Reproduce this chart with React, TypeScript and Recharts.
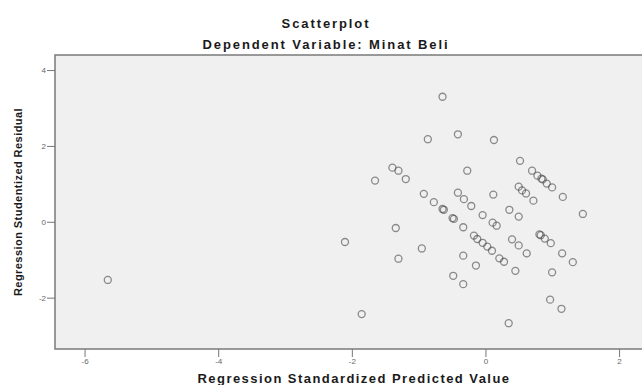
import React from "react";
import {
  ScatterChart,
  Scatter,
  XAxis,
  YAxis,
  CartesianGrid,
  ReferenceArea,
} from "recharts";

// regression standardized predicted value (x) / studentized residual (y)
const predicted = [
  -5.66, -2.11, -1.86, -1.66, -1.4, -1.31, -1.2, -1.35, -1.31, -0.96, -0.93,
  -0.87, -0.65, -0.42, 0.12, -0.28, -0.78, -0.65, -0.5, -0.34, -0.42, -0.33,
  -0.22, 0.11, -0.05, 0.1, 0.16, 0.35, 0.49, 0.51, 0.69, 0.77, 0.85, 0.91, 0.99,
  1.15, 0.49, 0.54, 0.6, 0.71, 1.45, -0.18, -0.13, -0.05, 0.02, 0.09, 0.2, 0.27,
  0.39, 0.49, 0.61, 0.8, 0.88, 0.97, 1.14, 1.3, -0.34, -0.15, 0.44, 0.99, -0.49,
  -0.34, 0.96, 1.13, 0.34, -0.63, -0.48, 0.83, 0.82,
];
const residual = [
  -1.52, -0.52, -2.42, 1.1, 1.44, 1.36, 1.14, -0.15, -0.96, -0.69, 0.75, 2.19,
  3.31, 2.32, 2.17, 1.36, 0.53, 0.35, 0.11, -0.13, 0.78, 0.61, 0.43, 0.73, 0.19,
  -0.01, -0.09, 0.33, 0.15, 1.62, 1.36, 1.23, 1.13, 1.02, 0.92, 0.67, 0.94, 0.84,
  0.76, 0.57, 0.22, -0.35, -0.44, -0.54, -0.64, -0.75, -0.95, -1.04, -0.45,
  -0.61, -0.82, -0.32, -0.43, -0.55, -0.82, -1.05, -0.88, -1.14, -1.28, -1.32,
  -1.41, -1.63, -2.04, -2.28, -2.66, 0.33, 0.09, 1.15, -0.34,
];
const xTicks = [-6, -4, -2, 0, 2];
const yTicks = [-2, 0, 2, 4];
const xDomain = [-6.45, 2.5];
const yDomain = [-3.34, 4.41];

const points = predicted.map((x, i) => ({ x, y: residual[i] }));

const FONT = "'Liberation Sans', Arial, sans-serif";

const Marker = (props: any) => (
  <circle
    cx={props.cx}
    cy={props.cy}
    r={3.5}
    fill="none"
    stroke="#444"
    strokeOpacity={0.6}
    strokeWidth={1.3}
  />
);

const XTitle = (props: any) => {
  const { viewBox } = props;
  const cx = viewBox.x + viewBox.width / 2;
  return (
    <text
      x={cx}
      y={378}
      textAnchor="middle"
      dominantBaseline="central"
      style={{ fontFamily: FONT, fontSize: 13, fontWeight: "bold", letterSpacing: 1.45 }}
      fill="#1a1a1a"
    >
      Regression Standardized Predicted Value
    </text>
  );
};

const YTitle = (props: any) => {
  const { viewBox } = props;
  const cx = 17.5;
  const cy = viewBox.y + viewBox.height / 2;
  return (
    <text
      x={cx}
      y={cy}
      transform={`rotate(-90 ${cx} ${cy})`}
      textAnchor="middle"
      dominantBaseline="central"
      style={{ fontFamily: FONT, fontSize: 11, fontWeight: "bold", letterSpacing: 0.45 }}
      fill="#1a1a1a"
    >
      Regression Studentized Residual
    </text>
  );
};

const App: React.FC = () => {
  return (
    <div style={styles.page}>
      <div style={{ ...styles.title, top: 23 }}>Scatterplot</div>
      <div style={{ ...styles.title, top: 43.5 }}>Dependent Variable: Minat Beli</div>
      <ScatterChart
        width={653}
        height={385}
        margin={{ top: 55, right: 0, bottom: 0, left: 0 }}
      >
        <CartesianGrid horizontal={false} vertical={false} fill="#f0f0f0" />
        <XAxis
          type="number"
          dataKey="x"
          domain={xDomain}
          ticks={xTicks}
          allowDataOverflow
          height={36}
          axisLine={false}
          tickSize={8}
          tickMargin={1}
          tickLine={{ stroke: "#777" }}
          tick={{ fontSize: 8, fill: "#666", fontFamily: FONT }}
          label={<XTitle />}
        />
        <YAxis
          type="number"
          dataKey="y"
          domain={yDomain}
          ticks={yTicks}
          allowDataOverflow
          width={55}
          axisLine={false}
          tickSize={8}
          tickMargin={1}
          tickLine={{ stroke: "#777" }}
          tick={{ fontSize: 8, fill: "#666", fontFamily: FONT }}
          label={<YTitle />}
        />
        <ReferenceArea
          x1={xDomain[0]}
          x2={xDomain[1]}
          y1={yDomain[0]}
          y2={yDomain[1]}
          fill="#f0f0f0"
          fillOpacity={0}
          stroke="#7a7a7a"
          strokeWidth={1.5}
        />
        <Scatter data={points} shape={<Marker />} isAnimationActive={false} />
      </ScatterChart>
    </div>
  );
};

const styles: { [key: string]: React.CSSProperties } = {
  page: {
    position: "absolute",
    left: 0,
    top: 0,
    width: 642,
    height: 385,
    overflow: "hidden",
    background: "#fff",
    fontFamily: FONT,
  },
  title: {
    position: "absolute",
    left: 326,
    transform: "translate(-50%, -50%)",
    whiteSpace: "nowrap",
    fontSize: 13,
    lineHeight: "13px",
    fontWeight: "bold",
    letterSpacing: 1.9,
    color: "#1a1a1a",
  },
};

export default App;
